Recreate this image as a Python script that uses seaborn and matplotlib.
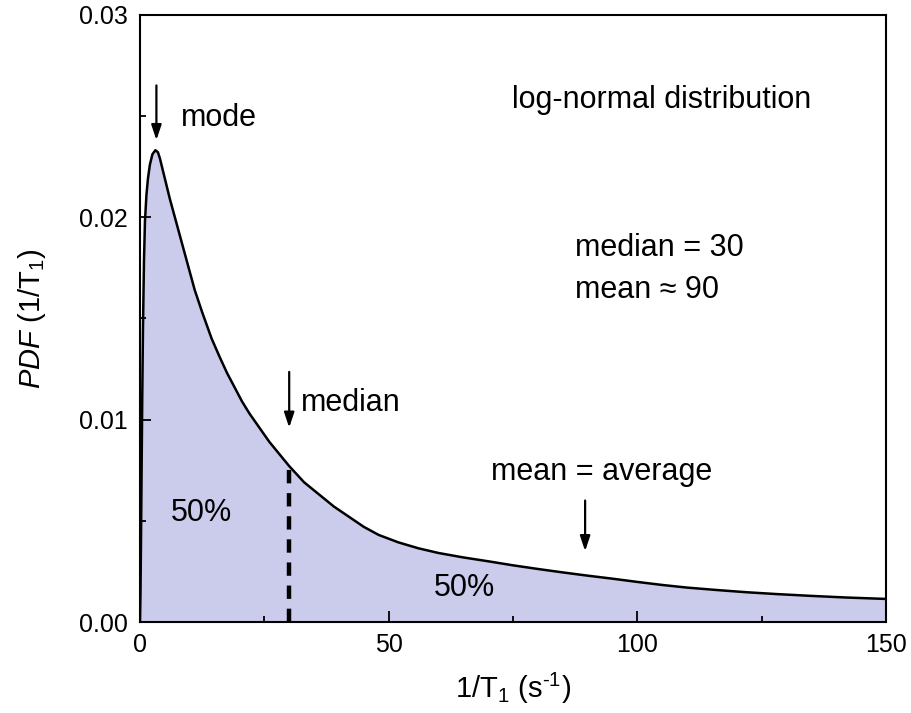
import numpy as np
import pandas as pd
import matplotlib
matplotlib.use("Agg")
import matplotlib.pyplot as plt
from matplotlib.ticker import MultipleLocator, FormatStrFormatter
import seaborn as sns

# curve (1/T1 in s^-1, PDF)
rate = [0.0, 0.1, 0.2, 0.3, 0.45, 0.6, 0.8, 1.0, 1.3, 1.6, 2.0, 2.5, 3.1, 3.6,
        4.0, 5.0, 6.0, 7.0, 8.0, 9.0, 10.0, 11.0, 12.5, 14.4, 16.0, 17.5, 19.0,
        20.5, 22.0, 24.0, 26.0, 28.0, 30.0, 33.0, 36.0, 39.0, 42.0, 45.0, 48.0,
        52.0, 56.0, 60.0, 65.0, 70.0, 75.0, 80.0, 85.0, 90.0, 95.0, 100.0,
        105.0, 110.0, 116.0, 122.0, 128.0, 135.0, 142.0, 150.0]
pdf = [0.0, 0.0015, 0.0040, 0.0068, 0.0110, 0.0145, 0.0178, 0.0198, 0.0211,
       0.0219, 0.0226, 0.0231, 0.0233, 0.0232, 0.0229, 0.0219, 0.0209, 0.0200,
       0.0191, 0.0182, 0.0173, 0.0164, 0.0153, 0.0140, 0.0131, 0.0123, 0.0116,
       0.0109, 0.0103, 0.0096, 0.0089, 0.0083, 0.0077, 0.0069, 0.0063, 0.0057,
       0.0052, 0.0047, 0.0043, 0.00393, 0.00364, 0.00341, 0.00319, 0.0030, 0.0028,
       0.00262, 0.00245, 0.00229, 0.00214, 0.00198, 0.00183, 0.00170, 0.00158,
       0.00147, 0.00138, 0.00129, 0.00121, 0.00114]

median_x = 30
median_y = 0.0077
mode_x = 3.3
mean_x = 89.5

df = pd.DataFrame({"rate": rate, "pdf": pdf})

sns.set_style("ticks")
plt.rcParams["font.family"] = ["Liberation Sans", "DejaVu Sans"]
plt.rcParams["mathtext.fontset"] = "custom"
plt.rcParams["mathtext.rm"] = "Liberation Sans"
plt.rcParams["mathtext.it"] = "Liberation Sans:italic"
plt.rcParams["text.color"] = "black"
plt.rcParams["axes.labelcolor"] = "black"

fig = plt.figure(figsize=(9.12, 7.13), dpi=100)
ax = fig.add_axes([0.1535, 0.1276, 0.818, 0.852])
ax.set_axisbelow(False)

ax.fill_between(df["rate"], df["pdf"], 0, color="#cbcbeb", lw=0, zorder=1)
sns.lineplot(data=df, x="rate", y="pdf", color="black", lw=1.8, ax=ax, zorder=3)

# median split line
ax.plot([median_x, median_x], [0, median_y], color="black", lw=3.2,
        ls=(0, (3.0, 2.2)), zorder=2)

ax.set_xlim(0, 150)
ax.set_ylim(0, 0.03)
ax.xaxis.set_major_locator(MultipleLocator(50))
ax.xaxis.set_minor_locator(MultipleLocator(25))
ax.yaxis.set_major_locator(MultipleLocator(0.01))
ax.yaxis.set_minor_locator(MultipleLocator(0.005))
ax.yaxis.set_major_formatter(FormatStrFormatter("%.2f"))
ax.tick_params(which="both", direction="in", top=False, right=False,
               labelsize=18, color="black", labelcolor="black", width=1.3)
ax.tick_params(which="major", length=8)
ax.tick_params(which="minor", length=4)
ax.tick_params(axis="y", pad=9)
ax.tick_params(axis="x", pad=8)
for sp in ax.spines.values():
    sp.set_visible(True)
    sp.set_linewidth(1.5)
    sp.set_color("black")
    sp.set_zorder(4)

ax.set_xlabel("1/T$_1$ (s$^{\u2010 1}$)", fontsize=21, labelpad=10)
ax.set_ylabel(r"$\it{PDF}$ (1/T$_1$)", fontsize=21, labelpad=22)

arrow = dict(arrowstyle="-|>,head_length=0.9,head_width=0.3", color="black",
             lw=1.6, shrinkA=0, shrinkB=0)
ax.annotate("", xy=(mode_x, 0.0238), xytext=(mode_x, 0.0265), arrowprops=arrow)
ax.annotate("", xy=(median_x, 0.0096), xytext=(median_x, 0.01235), arrowprops=arrow)
ax.annotate("", xy=(mean_x, 0.0035), xytext=(mean_x, 0.0060), arrowprops=arrow)

fs = 22
ax.text(8.2, 0.0249, "mode", fontsize=fs, va="center", ha="left")
ax.text(32.3, 0.0108, "median", fontsize=fs, va="center", ha="left")
ax.text(92.8, 0.0074, "mean = average", fontsize=fs, va="center", ha="center")
ax.text(104.8, 0.0258, "log-normal distribution", fontsize=fs, va="center", ha="center")
ax.text(87.5, 0.01845, "median = 30", fontsize=fs, va="center", ha="left")
ax.text(87.5, 0.0164, "mean \u2248 90", fontsize=fs, va="center", ha="left")
ax.text(12.4, 0.0054, "50%", fontsize=fs, va="center", ha="center")
ax.text(65.3, 0.0017, "50%", fontsize=fs, va="center", ha="center")

fig.savefig("out.png", dpi=100)
